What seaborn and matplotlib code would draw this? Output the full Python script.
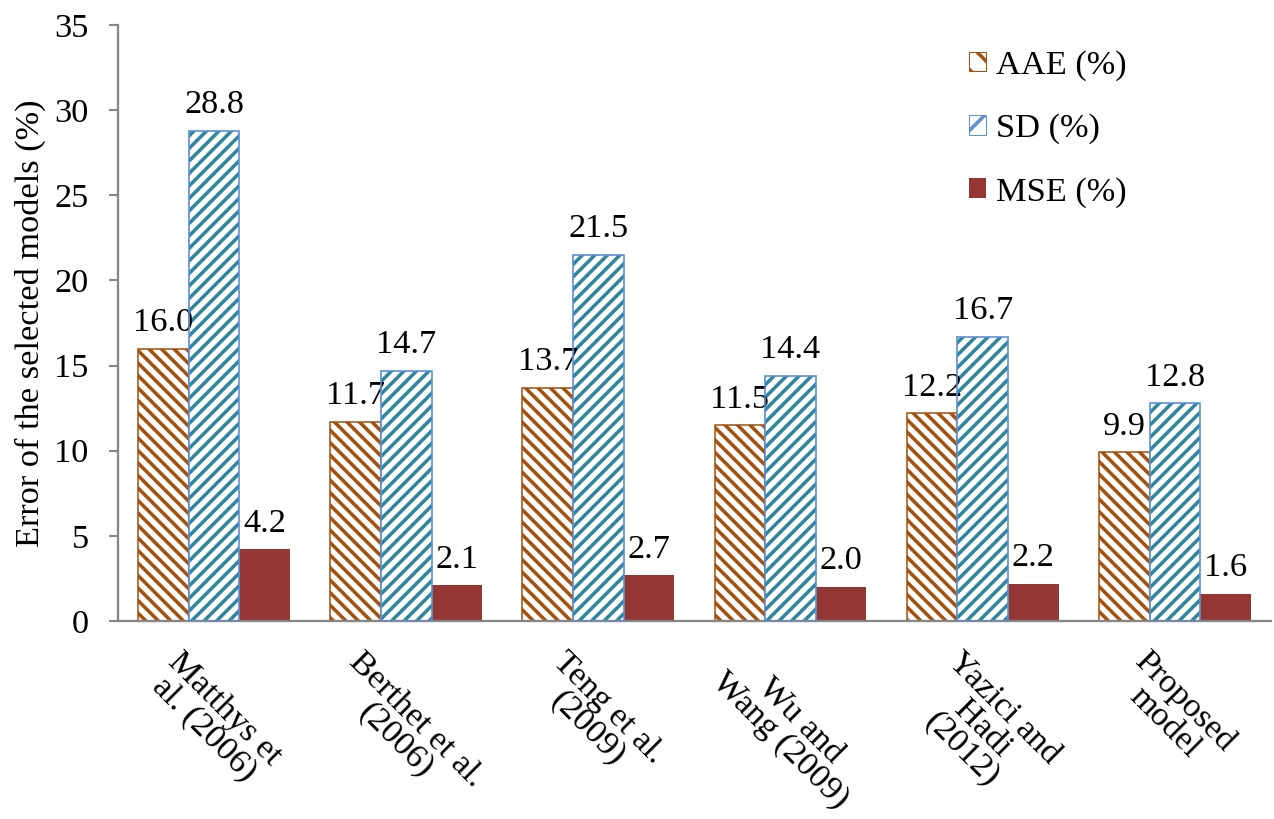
import pandas as pd
import matplotlib
matplotlib.use("Agg")
import matplotlib.pyplot as plt
import seaborn as sns
from matplotlib.patches import Rectangle

models = ["Matthys et\nal. (2006)", "Berthet et al.\n(2006)", "Teng et al.\n(2009)",
          "Wu and\nWang (2009)", "Yazici and\nHadi\n(2012)", "Proposed\nmodel"]
metrics = ["AAE (%)", "SD (%)", "MSE (%)"]
aae = [16.0, 11.7, 13.7, 11.5, 12.2, 9.9]
sd = [28.8, 14.7, 21.5, 14.4, 16.7, 12.8]
mse = [4.2, 2.1, 2.7, 2.0, 2.2, 1.6]

df = pd.DataFrame({
    "model": models * 3,
    "metric": [metrics[0]] * 6 + [metrics[1]] * 6 + [metrics[2]] * 6,
    "value": aae + sd + mse,
})

sns.set_style("white")
plt.rcParams["font.family"] = ["Liberation Serif", "DejaVu Serif"]
plt.rcParams["hatch.linewidth"] = 3.4
plt.rcParams["text.color"] = "black"
plt.rcParams["axes.labelcolor"] = "black"
plt.rcParams["xtick.color"] = "black"
plt.rcParams["ytick.color"] = "black"

fig = plt.figure(figsize=(1274 / 75, 819 / 75), dpi=75)
ax = fig.add_axes([0.0926, 0.2418, 0.905, 0.7277])

sns.barplot(data=df, x="model", y="value", hue="metric", order=models,
            hue_order=metrics, width=0.79, gap=0, ax=ax, legend=True,
            palette=["white", "white", "#943634"], saturation=1)

brown = "#A3520F"
teal = "#31859C"
blue = "#5B8FD6"
fs = 33
for i, cont in enumerate(ax.containers):
    for bar in cont:
        if i == 0:
            bar.set_facecolor("white")
            bar.set_edgecolor(brown)
            bar.set_hatch("\\\\")
            bar.set_linewidth(1.5)
        elif i == 1:
            bar.set_facecolor("white")
            bar.set_edgecolor(teal)
            bar.set_hatch("//")
            bar.set_linewidth(0)
            ax.add_patch(Rectangle(bar.get_xy(), bar.get_width(), bar.get_height(),
                                   fill=False, edgecolor=blue, lw=1.6, zorder=3))
        else:
            bar.set_facecolor("#943634")
            bar.set_edgecolor("none")
    ax.bar_label(cont, fmt="%.1f", padding=10, fontsize=fs)

ax.set_ylim(0, 35)
ax.set_xlim(-0.5, 5.5)
ax.set_yticks(range(0, 36, 5))
ax.set_xlabel("")
ax.set_ylabel("Error of the selected models (%)", fontsize=fs, labelpad=8)
ax.tick_params(axis="y", labelsize=fs, length=9, color="#868686", width=2, pad=19, left=True)
ax.tick_params(axis="x", labelsize=fs, length=0, pad=24)
for lab in ax.get_xticklabels():
    lab.set_rotation(-45)
    lab.set_ha("center")
    lab.set_va("top")
    lab.set_multialignment("center")
    lab.set_linespacing(0.95)

for s in ["top", "right"]:
    ax.spines[s].set_visible(False)
for s in ["left", "bottom"]:
    ax.spines[s].set_color("#868686")
    ax.spines[s].set_linewidth(2.2)

# legend
leg = ax.get_legend()
handles = leg.legend_handles
handles[0].set_facecolor("white"); handles[0].set_edgecolor(brown); handles[0].set_hatch("\\")
handles[1].set_facecolor("white"); handles[1].set_edgecolor(blue); handles[1].set_hatch("/")
handles[2].set_facecolor("#943634"); handles[2].set_edgecolor("none")
ax.legend(handles=handles, labels=metrics, loc="upper left", bbox_to_anchor=(0.711, 1.01),
          frameon=False, fontsize=fs, handlelength=0.5, handleheight=0.5,
          handletextpad=0.3, labelspacing=0.95)

fig.savefig("out.png", dpi=75)
